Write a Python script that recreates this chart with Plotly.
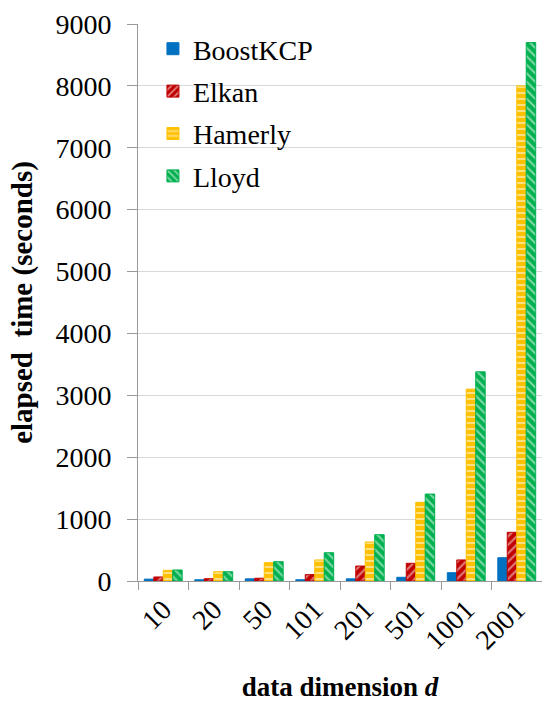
import plotly.graph_objects as go

dims = ["10", "20", "50", "101", "201", "501", "1001", "2001"]
boostkcp = [30, 20, 35, 20, 35, 60, 134, 376]
elkan = [65, 37, 45, 103, 242, 286, 340, 787]
hamerly = [172, 150, 296, 340, 630, 1271, 3100, 8000]
lloyd = [178, 150, 312, 457, 748, 1405, 3380, 8700]

FONT = "Liberation Serif"

series = [
    ("BoostKCP", boostkcp, "#0070C0", ""),
    ("Elkan", elkan, "#C00000", "/"),
    ("Hamerly", hamerly, "#FFC000", "-"),
    ("Lloyd", lloyd, "#00B050", "\\"),
]

fig = go.Figure()
for name, vals, color, shape in series:
    marker = dict(color=color, line=dict(color=color, width=1))
    if shape:
        marker["pattern"] = dict(shape=shape, fgcolor="white", fillmode="overlay",
                                 size=6, solidity=0.35)
    fig.add_trace(go.Bar(name=name, x=dims, y=vals, marker=marker,
                         legendgroup=name))

fig.update_layout(
    width=542, height=709,
    margin=dict(l=138, r=0, t=24, b=128),
    paper_bgcolor="white", plot_bgcolor="white",
    barmode="group", bargap=0.25, bargroupgap=0,
    font=dict(family=FONT, size=28, color="black"),
    legend=dict(x=0.037, y=1.0, xanchor="left", yanchor="top", itemwidth=30,
                bgcolor="rgba(0,0,0,0)", tracegroupgap=3,
                font=dict(family=FONT, size=28, color="black")),
    xaxis=dict(type="category", showline=True, linecolor="#999999", linewidth=1,
               ticks="outside", tickson="boundaries", ticklen=8, tickcolor="#999999",
               tickangle=-45, tickfont=dict(family=FONT, size=28, color="black"),
               title=dict(text="<b>data dimension <i>d</i></b>", standoff=22,
                          font=dict(family=FONT, size=27, color="black"))),
    yaxis=dict(range=[0, 9000], dtick=1000, showgrid=True, gridcolor="#d9d9d9",
               showline=True, linecolor="#999999", linewidth=1,
               ticks="outside", ticklen=10, tickcolor="#999999",
               ticklabelstandoff=10,
               zeroline=False, tickfont=dict(family=FONT, size=28, color="black"),
               title=dict(text="<b>elapsed  time (seconds)</b>", standoff=14,
                          font=dict(family=FONT, size=29, color="black"))),
)

fig.write_html("out.html")
